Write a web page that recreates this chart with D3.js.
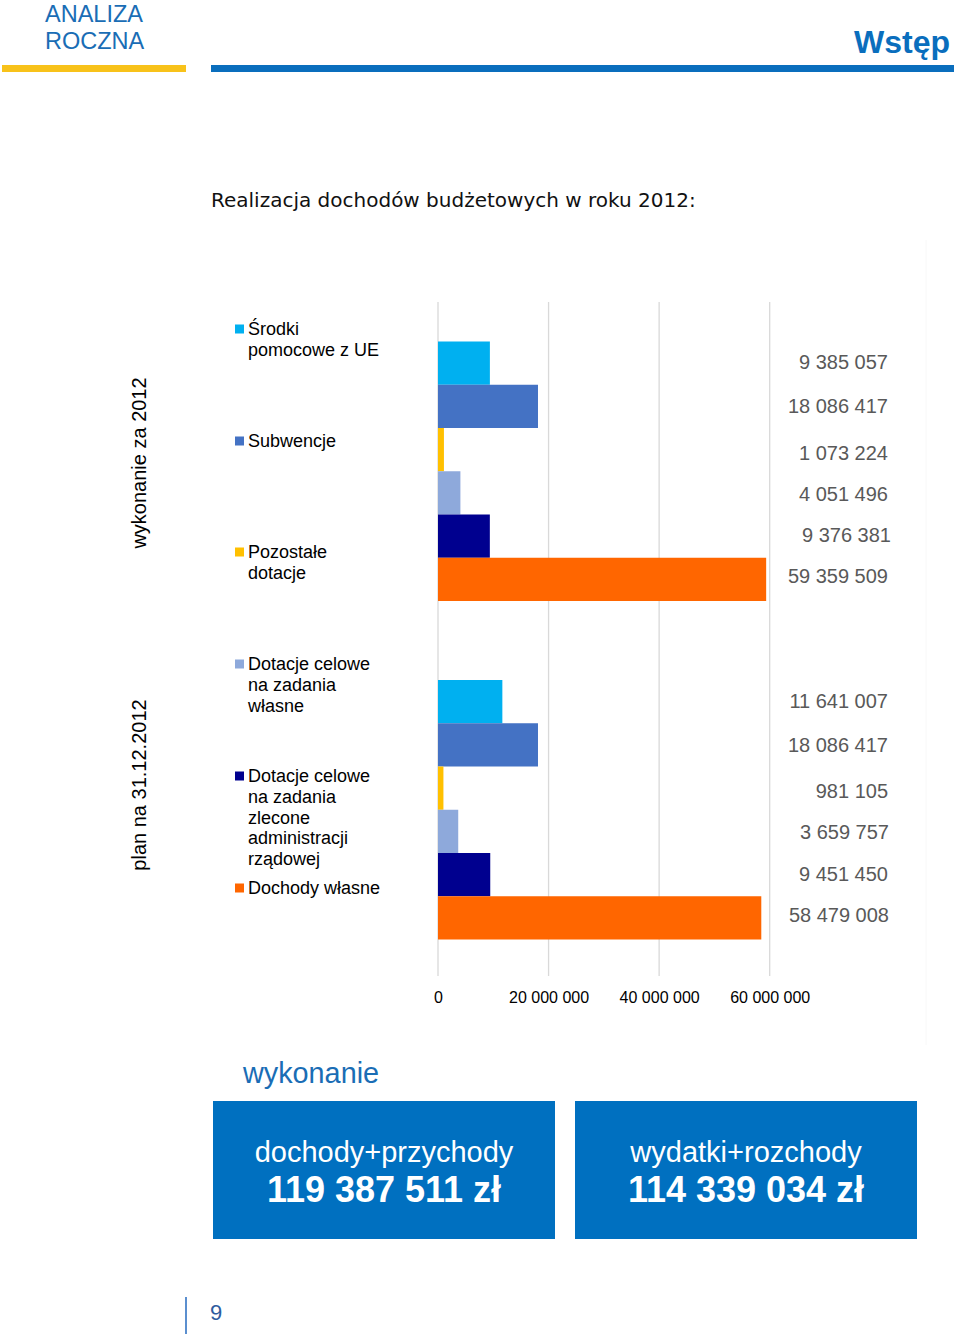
<!DOCTYPE html>
<html><head><meta charset="utf-8">
<script src="https://cdn.jsdelivr.net/npm/d3@7"></script>
<style>body{margin:0;background:#fff}svg{display:block}</style>
</head><body>
<svg id="c" width="960" height="1342"></svg>
<script>
const groups = ["wykonanie za 2012", "plan na 31.12.2012"];
const seriesNames = [
  "Środki pomocowe z UE",
  "Subwencje",
  "Pozostałe dotacje",
  "Dotacje celowe na zadania własne",
  "Dotacje celowe na zadania zlecone administracji rządowej",
  "Dochody własne"
];
const legendLines = [
  ["Środki", "pomocowe z UE"],
  ["Subwencje"],
  ["Pozostałe", "dotacje"],
  ["Dotacje celowe", "na zadania", "własne"],
  ["Dotacje celowe", "na zadania", "zlecone", "administracji", "rządowej"],
  ["Dochody własne"]
];
const colors = ["#00B0F0", "#4472C4", "#FFC000", "#8EA9DB", "#00008F", "#FF6600"];
const valuesWykonanie = [9385057, 18086417, 1073224, 4051496, 9376381, 59359509];
const valuesPlan = [11641007, 18086417, 981105, 3659757, 9451450, 58479008];
const tickValues = [0, 20000000, 40000000, 60000000];
const summaryLabels = ["dochody+przychody", "wydatki+rozchody"];
const summaryValues = ["119 387 511 zł", "114 339 034 zł"];

const svg = d3.select("#c");
const fmt = v => d3.format(",")(v).replace(/,/g, " ");

// Header
svg.append("text").attr("x", 45).attr("y", 22).attr("font-family", "Liberation Sans, Arial").attr("font-size", 23.5).attr("fill", "#1A6DB5").text("ANALIZA");
svg.append("text").attr("x", 45).attr("y", 49).attr("font-family", "Liberation Sans, Arial").attr("font-size", 23.5).attr("fill", "#1A6DB5").text("ROCZNA");
svg.append("text").attr("x", 950).attr("y", 53).attr("text-anchor", "end").attr("font-family", "Liberation Sans, Arial").attr("font-weight", "bold").attr("font-size", 32).attr("fill", "#0A6EBD").text("Wstęp");
svg.append("rect").attr("x", 2).attr("y", 65).attr("width", 184).attr("height", 7).attr("fill", "#F8C21A");
svg.append("rect").attr("x", 211).attr("y", 65).attr("width", 743).attr("height", 7).attr("fill", "#0A6EBD");

// Title
svg.append("text").attr("x", 211).attr("y", 207).attr("font-family", "DejaVu Sans, Verdana").attr("font-size", 20).attr("fill", "#111").text("Realizacja dochodów budżetowych w roku 2012:");

// faint chart panel edge
svg.append("line").attr("x1", 926).attr("x2", 926).attr("y1", 240).attr("y2", 1045).attr("stroke", "#f8f8f8");

// Scales
const x = d3.scaleLinear().domain([0, 60000000]).range([438, 769.7]);
const yGroup = d3.scaleBand().domain(groups).range([302, 979]).paddingInner(0).paddingOuter(0);
const yInner = d3.scaleBand().domain(seriesNames).range([0, 259.5]);
const groupOffset = g => yGroup(g) + (yGroup.bandwidth() - 259.5) / 2;

// gridlines
svg.append("g").selectAll("line").data(tickValues).join("line")
  .attr("x1", d => x(d)).attr("x2", d => x(d)).attr("y1", 302).attr("y2", 976)
  .attr("stroke", "#D9D9D9").attr("stroke-width", 1.3);

// axis labels
const xAxis = d3.axisBottom(x).tickValues(tickValues).tickFormat(fmt).tickSize(0).tickPadding(0);
const ax = svg.append("g").attr("transform", "translate(0,992)").call(xAxis);
ax.select(".domain").remove();
ax.selectAll("text").attr("font-family", "Liberation Sans, Arial").attr("font-size", 16).attr("fill", "#000").attr("dy", "0.71em");

const data = [valuesWykonanie, valuesPlan];
const labelX = [[888, 888, 888, 888, 891, 888], [888, 888, 888, 889, 888, 889]];
groups.forEach((g, gi) => {
  const gg = svg.append("g").attr("transform", `translate(0,${groupOffset(g)})`);
  gg.selectAll("rect").data(data[gi]).join("rect")
    .attr("x", x(0)).attr("y", (d, i) => yInner(seriesNames[i]))
    .attr("width", d => x(d) - x(0)).attr("height", yInner.bandwidth())
    .attr("fill", (d, i) => colors[i]);
  gg.selectAll("text").data(data[gi]).join("text")
    .attr("x", (d, i) => labelX[gi][i])
    .attr("y", (d, i) => yInner(seriesNames[i]) + yInner.bandwidth() / 2 + [-1, 0, 3, 1, -1, -3][i])
    .attr("dy", "0.35em").attr("text-anchor", "end")
    .attr("font-family", "Liberation Sans, Arial").attr("font-size", 20).attr("fill", "#595959")
    .text(d => fmt(d));
});

// group labels (rotated)
const groupLabelY = [463, 785];
groups.forEach((g, gi) => {
  svg.append("text").attr("transform", `translate(146,${groupLabelY[gi]}) rotate(-90)`)
    .attr("text-anchor", "middle").attr("font-family", "Liberation Sans, Arial").attr("font-size", 20).attr("fill", "#000").text(g);
});

// legend
const legendTop = [329, 441, 552, 664, 776, 888];
seriesNames.forEach((s, i) => {
  const lg = svg.append("g");
  lg.append("rect").attr("x", 235).attr("y", legendTop[i] - 4.5).attr("width", 9).attr("height", 9).attr("fill", colors[i]);
  legendLines[i].forEach((ln, j) => {
    lg.append("text").attr("x", 248).attr("y", legendTop[i] + j * 20.7).attr("dy", "0.35em")
      .attr("font-family", "Liberation Sans, Arial").attr("font-size", 18).attr("fill", "#000").text(ln);
  });
});

// bottom summary
svg.append("text").attr("x", 243).attr("y", 1083).attr("font-family", "Liberation Sans, Arial").attr("font-size", 28.8).attr("fill", "#1A6DB5").text("wykonanie");
const boxX = [213, 575];
summaryLabels.forEach((lab, i) => {
  svg.append("rect").attr("x", boxX[i]).attr("y", 1101).attr("width", 342).attr("height", 138).attr("fill", "#0070C0");
  svg.append("text").attr("x", boxX[i] + 171).attr("y", 1162).attr("text-anchor", "middle").attr("font-family", "Liberation Sans, Arial").attr("font-size", 29).attr("fill", "#fff").text(lab);
  svg.append("text").attr("x", boxX[i] + 171).attr("y", 1202).attr("text-anchor", "middle").attr("font-family", "Liberation Sans, Arial").attr("font-weight", "bold").attr("font-size", 36).attr("fill", "#fff").text(summaryValues[i]);
});

// page number
svg.append("line").attr("x1", 186).attr("x2", 186).attr("y1", 1297).attr("y2", 1334).attr("stroke", "#5B8FCF").attr("stroke-width", 2);
svg.append("text").attr("x", 210).attr("y", 1320).attr("font-family", "Liberation Sans, Arial").attr("font-size", 22).attr("fill", "#2E5C9E").text("9");
</script>
</body></html>
